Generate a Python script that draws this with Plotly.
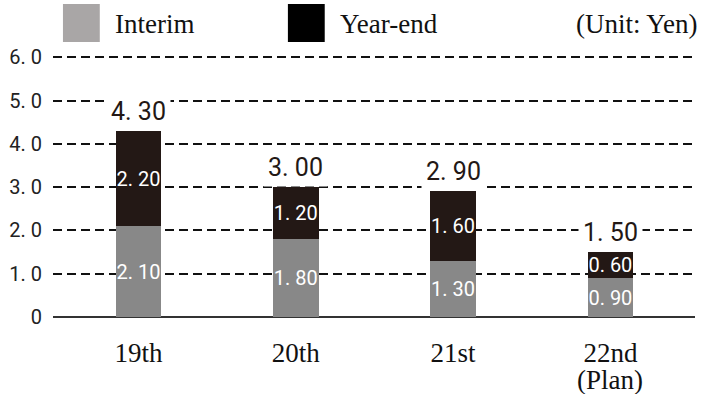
import plotly.graph_objects as go

categories = ["19th", "20th", "21st", "22nd"]
category_notes = ["", "", "", "(Plan)"]
interim = [2.10, 1.80, 1.30, 0.90]
year_end = [2.20, 1.20, 1.60, 0.60]
y_ticks = [0, 1, 2, 3, 4, 5, 6]
y_tick_text = ["0", "1. 0", "2. 0", "3. 0", "4. 0", "5. 0", "6. 0"]

def fmt(v):
    return f"{v:.2f}".replace(".", ". ")

totals = [a + b for a, b in zip(interim, year_end)]

NUM_FONT = "Roboto, Liberation Sans, sans-serif"
SERIF = "Liberation Serif, Times New Roman, serif"

fig = go.Figure()
fig.add_trace(go.Bar(
    x=categories, y=interim, name="Interim",
    marker=dict(color="#888888", line=dict(width=0)),
    width=0.29,
    text=[fmt(v) for v in interim], textposition="inside",
    insidetextanchor="middle", textangle=0, constraintext="none",
    textfont=dict(family=NUM_FONT, size=20, color="white"),
))
fig.add_trace(go.Bar(
    x=categories, y=year_end, name="Year-end",
    marker=dict(color="#231815", line=dict(width=0)),
    width=0.29,
    text=[fmt(v) for v in year_end], textposition="inside",
    insidetextanchor="middle", textangle=0, constraintext="none",
    textfont=dict(family=NUM_FONT, size=20, color="white"),
))

for c, t in zip(categories, totals):
    fig.add_annotation(
        x=c, y=t, xref="x", yref="y", text=fmt(t), showarrow=False,
        yanchor="bottom", yshift=0,
        font=dict(family=NUM_FONT, size=25, color="#231815"),
        bgcolor="white", borderpad=4,
    )

# Legend (custom) in paper coordinates derived from pixel layout
W, L = 645.0, 50.0
H, B = 264.0, 317.0
def px(x):
    return (x - L) / W
def py(y):
    return (B - y) / H

for c, note in zip(categories, category_notes):
    if note:
        fig.add_annotation(x=c, xref="x", yref="paper", y=py(364),
                           yanchor="top", text=note, showarrow=False,
                           borderpad=0,
                           font=dict(family=SERIF, size=27, color="#111"))

fig.add_shape(type="rect", xref="paper", yref="paper",
              x0=px(60), x1=px(97), y0=py(42), y1=py(4),
              fillcolor="#a9a6a6", line=dict(width=0))
fig.add_shape(type="rect", xref="paper", yref="paper",
              x0=px(286), x1=px(323), y0=py(42), y1=py(4),
              fillcolor="#000000", line=dict(width=0))
fig.add_annotation(xref="paper", yref="paper", x=px(110), y=py(24),
                   xanchor="left", yanchor="middle", text="Interim",
                   showarrow=False, font=dict(family=SERIF, size=27, color="#111"))
fig.add_annotation(xref="paper", yref="paper", x=px(336), y=py(24),
                   xanchor="left", yanchor="middle", text="Year-end",
                   showarrow=False, font=dict(family=SERIF, size=27, color="#111"))
fig.add_annotation(xref="paper", yref="paper", x=px(700), y=py(24),
                   xanchor="right", yanchor="middle", text="(Unit: Yen)",
                   showarrow=False, font=dict(family=SERIF, size=27, color="#111"))

fig.update_layout(
    width=704, height=394,
    margin=dict(l=50, r=9, t=53, b=77),
    barmode="stack",
    showlegend=False,
    plot_bgcolor="white", paper_bgcolor="white",
)
fig.update_xaxes(
    type="category", range=[-0.544, 3.538],
    showgrid=False, showline=False, ticks="",
    tickfont=dict(family=SERIF, size=27, color="#111"),
    ticklabelstandoff=17,
)
fig.update_yaxes(
    range=[0, 6.1], tickvals=y_ticks, ticktext=y_tick_text,
    showgrid=True, gridcolor="#111", gridwidth=1.8, griddash="9px,5px",
    zeroline=True, zerolinecolor="#333", zerolinewidth=2,
    showline=False, ticks="",
    tickfont=dict(family=NUM_FONT, size=20, color="#222"),
    ticklabelstandoff=10,
)

fig.write_html("out.html")
